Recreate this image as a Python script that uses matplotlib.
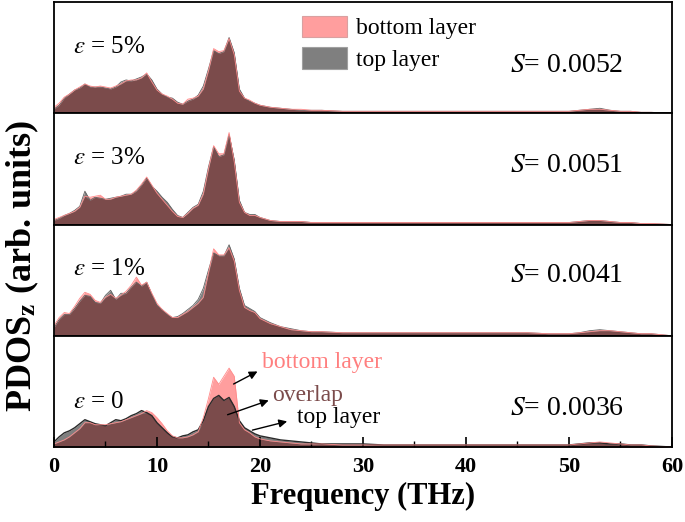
import matplotlib
matplotlib.use("Agg")
import matplotlib.pyplot as plt
import numpy as np
from matplotlib.patches import Patch

plt.rcParams['font.family'] = ['Liberation Serif', 'DejaVu Serif']
plt.rcParams['mathtext.fontset'] = 'stix'

# Frequency grid (THz)
freq = [0, 0.5, 1, 1.5, 2, 2.5, 3, 3.5, 4, 4.5, 5, 5.5, 6, 6.5, 7, 7.5, 8, 8.5, 9, 9.5,
        10, 10.5, 11, 11.5, 12, 12.5, 13, 13.5, 14, 14.5, 15, 15.5, 16, 16.5, 17, 17.5,
        18, 18.5, 19, 19.5, 20, 21, 22, 23, 24, 25, 26, 28, 30, 32, 34, 36, 38, 40, 42,
        44, 46, 48, 50, 51, 52, 53, 54, 55, 56, 57, 58, 59, 60]

# eps = 5%
bottom_5 = [6, 10, 16, 19, 23, 26, 29, 27, 26, 27, 26, 25, 27, 29, 32, 33, 33, 35, 40, 31,
            23, 19, 17, 14, 10, 9, 14, 15, 17, 24, 42, 64, 61, 62, 74, 58,
            22, 15, 13, 10, 8, 6, 5, 4, 4, 3, 3,
            2, 2, 2, 2, 2, 2, 2, 2, 2, 2, 2, 2, 3, 4, 4, 3, 2, 2, 1, 1, 0.5, 0]
top_5 = [4, 8, 15, 19, 23, 25, 29, 26, 26, 26, 25, 24, 26, 31, 33, 32, 34, 36, 39, 33,
         24, 19, 16, 15, 11, 9, 12, 14, 18, 27, 44, 62, 59, 61, 75, 60,
         24, 15, 12, 10, 8, 6, 5, 4, 3, 3, 3,
         2, 2, 2, 2, 2, 2, 2, 2, 2, 2, 2, 2, 3, 4, 5, 3, 2, 2, 1, 1, 0.5, 0]

# eps = 3%
bottom_3 = [5, 7, 9, 11, 13, 17, 28, 27, 28, 29, 25, 25, 27, 28, 29, 30, 34, 40, 47, 39,
            31, 25, 19, 13, 8, 7, 11, 16, 19, 30, 55, 78, 70, 70, 91, 62,
            22, 12, 9, 9, 7, 4, 3, 3, 3, 2, 2,
            2, 2, 2, 2, 2, 2, 2, 2, 2, 2, 2, 2, 3, 4, 4, 3, 2, 2, 1, 1, 0.5, 0]
top_3 = [4, 6, 9, 11, 14, 18, 33, 24, 27, 26, 25, 26, 27, 28, 30, 30, 33, 39, 46, 38,
         33, 27, 22, 15, 9, 7, 12, 17, 20, 33, 57, 77, 67, 69, 89, 64,
         24, 12, 10, 10, 7, 4, 3, 3, 3, 2, 2,
         2, 2, 2, 2, 2, 2, 2, 2, 2, 2, 2, 2, 3, 4, 4, 3, 2, 2, 1, 1, 0.5, 0]

# eps = 1%
bottom_1 = [10, 18, 23, 22, 29, 37, 43, 41, 35, 33, 38, 41, 37, 40, 44, 50, 58, 50, 53, 42,
            32, 26, 22, 18, 18, 21, 24, 28, 32, 38, 62, 86, 80, 80, 87, 74,
            45, 28, 25, 23, 17, 12, 9, 6, 5, 4, 4,
            3, 3, 3, 3, 3, 3, 3, 3, 3, 3, 2, 2, 3, 4, 5, 5, 4, 3, 2, 2, 1, 0]
top_1 = [8, 16, 21, 21, 27, 34, 40, 39, 33, 32, 40, 45, 36, 42, 42, 48, 53, 49, 53, 41,
         30, 26, 21, 18, 19, 22, 26, 30, 36, 47, 65, 82, 79, 79, 90, 76,
         47, 30, 27, 24, 18, 13, 9, 7, 5, 4, 4,
         3, 3, 3, 3, 3, 3, 3, 3, 3, 3, 2, 2, 3, 5, 6, 5, 4, 3, 2, 2, 1, 0]

# eps = 0
bottom_0 = [3, 5, 7, 10, 14, 18, 24, 24, 22, 22, 22, 23, 24, 25, 27, 29, 31, 33, 36, 34,
            29, 23, 16, 11, 9, 9, 10, 12, 15, 29, 48, 69, 62, 70, 78, 70,
            24, 17, 14, 10, 8, 6, 5, 4, 3, 3, 3,
            2, 2, 2, 2, 2, 2, 2, 2, 2, 2, 2, 2, 3, 4, 5, 4, 3, 2, 2, 1, 0.5, 0]
top_0 = [5, 10, 14, 16, 19, 23, 27, 25, 23, 22, 21, 24, 27, 26, 28, 31, 33, 36, 34, 31,
         24, 19, 14, 10, 9, 11, 12, 15, 17, 26, 40, 48, 51, 46, 49, 40,
         26, 19, 16, 13, 11, 9, 7, 6, 5, 4, 3,
         3, 3, 2, 2, 2, 2, 2, 2, 2, 2, 2, 2, 3, 4, 4, 3, 3, 2, 2, 1, 0.5, 0]

labels = [r'$\varepsilon$ = 5%', r'$\varepsilon$ = 3%', r'$\varepsilon$ = 1%', r'$\varepsilon$ = 0']
s_values = ['0.0052', '0.0051', '0.0041', '0.0036']
bottoms = [bottom_5, bottom_3, bottom_1, bottom_0]
tops = [top_5, top_3, top_1, top_0]
xticks = [0, 10, 20, 30, 40, 50, 60]

PINK = '#FF9E9E'
GRAY = '#7F7F7F'
BROWN = '#7B4B4B'

fig, axes = plt.subplots(4, 1, figsize=(6.85, 5.22), dpi=100, sharex=True)
fig.subplots_adjust(left=0.0788, right=0.981, top=0.996, bottom=0.1437, hspace=0)

x = np.array(freq)
label_y = [0.595, 0.595, 0.60, 0.40]
s_y = [0.43, 0.53, 0.54, 0.35]
for i, ax in enumerate(axes):
    b = np.array(bottoms[i], dtype=float)
    t = np.array(tops[i], dtype=float)
    ax.fill_between(x, 0, b, color=PINK, lw=0)
    ax.fill_between(x, 0, t, color=GRAY, lw=0)
    ax.fill_between(x, 0, np.minimum(b, t), color=BROWN, lw=0)
    ax.plot(x, t, color='#2a2a2a' if i == 3 else '#606060', lw=1.0 if i == 3 else 0.6)
    ax.plot(x, b, color='#ff8a8a', lw=0.6)
    ax.set_xlim(0, 60)
    ax.set_ylim(0, 110)
    ax.set_yticks([])
    for sp in ax.spines.values():
        sp.set_linewidth(1.3)
    ax.text(0.031, label_y[i], labels[i], transform=ax.transAxes, fontsize=18,
            va='center', ha='left')
    ax.text(0.738, s_y[i], r'$S$= ' + s_values[i], transform=ax.transAxes, fontsize=20,
            va='center', ha='left')
    if i < 3:
        ax.tick_params(axis='x', which='both', bottom=False, top=False)

ax = axes[3]
ax.set_xticks(xticks)
ax.set_xticks([5, 15, 25, 35, 45, 55], minor=True)
ax.tick_params(axis='x', which='major', direction='in', length=7, width=1.2, labelsize=16, pad=7)
ax.tick_params(axis='x', which='minor', direction='in', length=4, width=1.0)
for lab in ax.get_xticklabels():
    lab.set_fontweight('bold')
ax.set_xlabel('Frequency (THz)', fontsize=22, fontweight='bold', labelpad=4)
fig.text(0.033, 0.49, r'PDOS$_\mathbf{z}$ (arb. units)', rotation=90, fontsize=26,
         fontweight='bold', va='center', ha='center')

# annotations
arrow = dict(arrowstyle='-|>', color='black', lw=1.0, mutation_scale=12)
ax.annotate('bottom layer', xy=(20.0, 76), xytext=(20.2, 84), fontsize=17, color='#FF7F7F',
            va='center', ha='left')
ax.annotate('', xy=(20.0, 76), xytext=(17.2, 61), arrowprops=arrow)
ax.annotate('overlap', xy=(21.1, 47), xytext=(21.2, 51), fontsize=17, color=BROWN,
            va='center', ha='left')
ax.annotate('', xy=(21.1, 47), xytext=(16.6, 31), arrowprops=arrow)
ax.annotate('top layer', xy=(22.9, 26), xytext=(23.6, 29), fontsize=17, color='black',
            va='center', ha='left')
ax.annotate('', xy=(22.9, 26), xytext=(19.0, 16), arrowprops=arrow)

handles = [Patch(facecolor=PINK, edgecolor='#d9a0a0', lw=0.8),
           Patch(facecolor=GRAY, edgecolor='#a0a0a0', lw=0.8)]
axes[0].legend(handles, ['bottom layer', 'top layer'], loc='upper left',
               bbox_to_anchor=(0.383, 0.985), frameon=False, fontsize=17, borderpad=0,
               handlelength=1.9, handleheight=1.0, handletextpad=0.35, labelspacing=0.35)

fig.savefig('out.png', dpi=100)
